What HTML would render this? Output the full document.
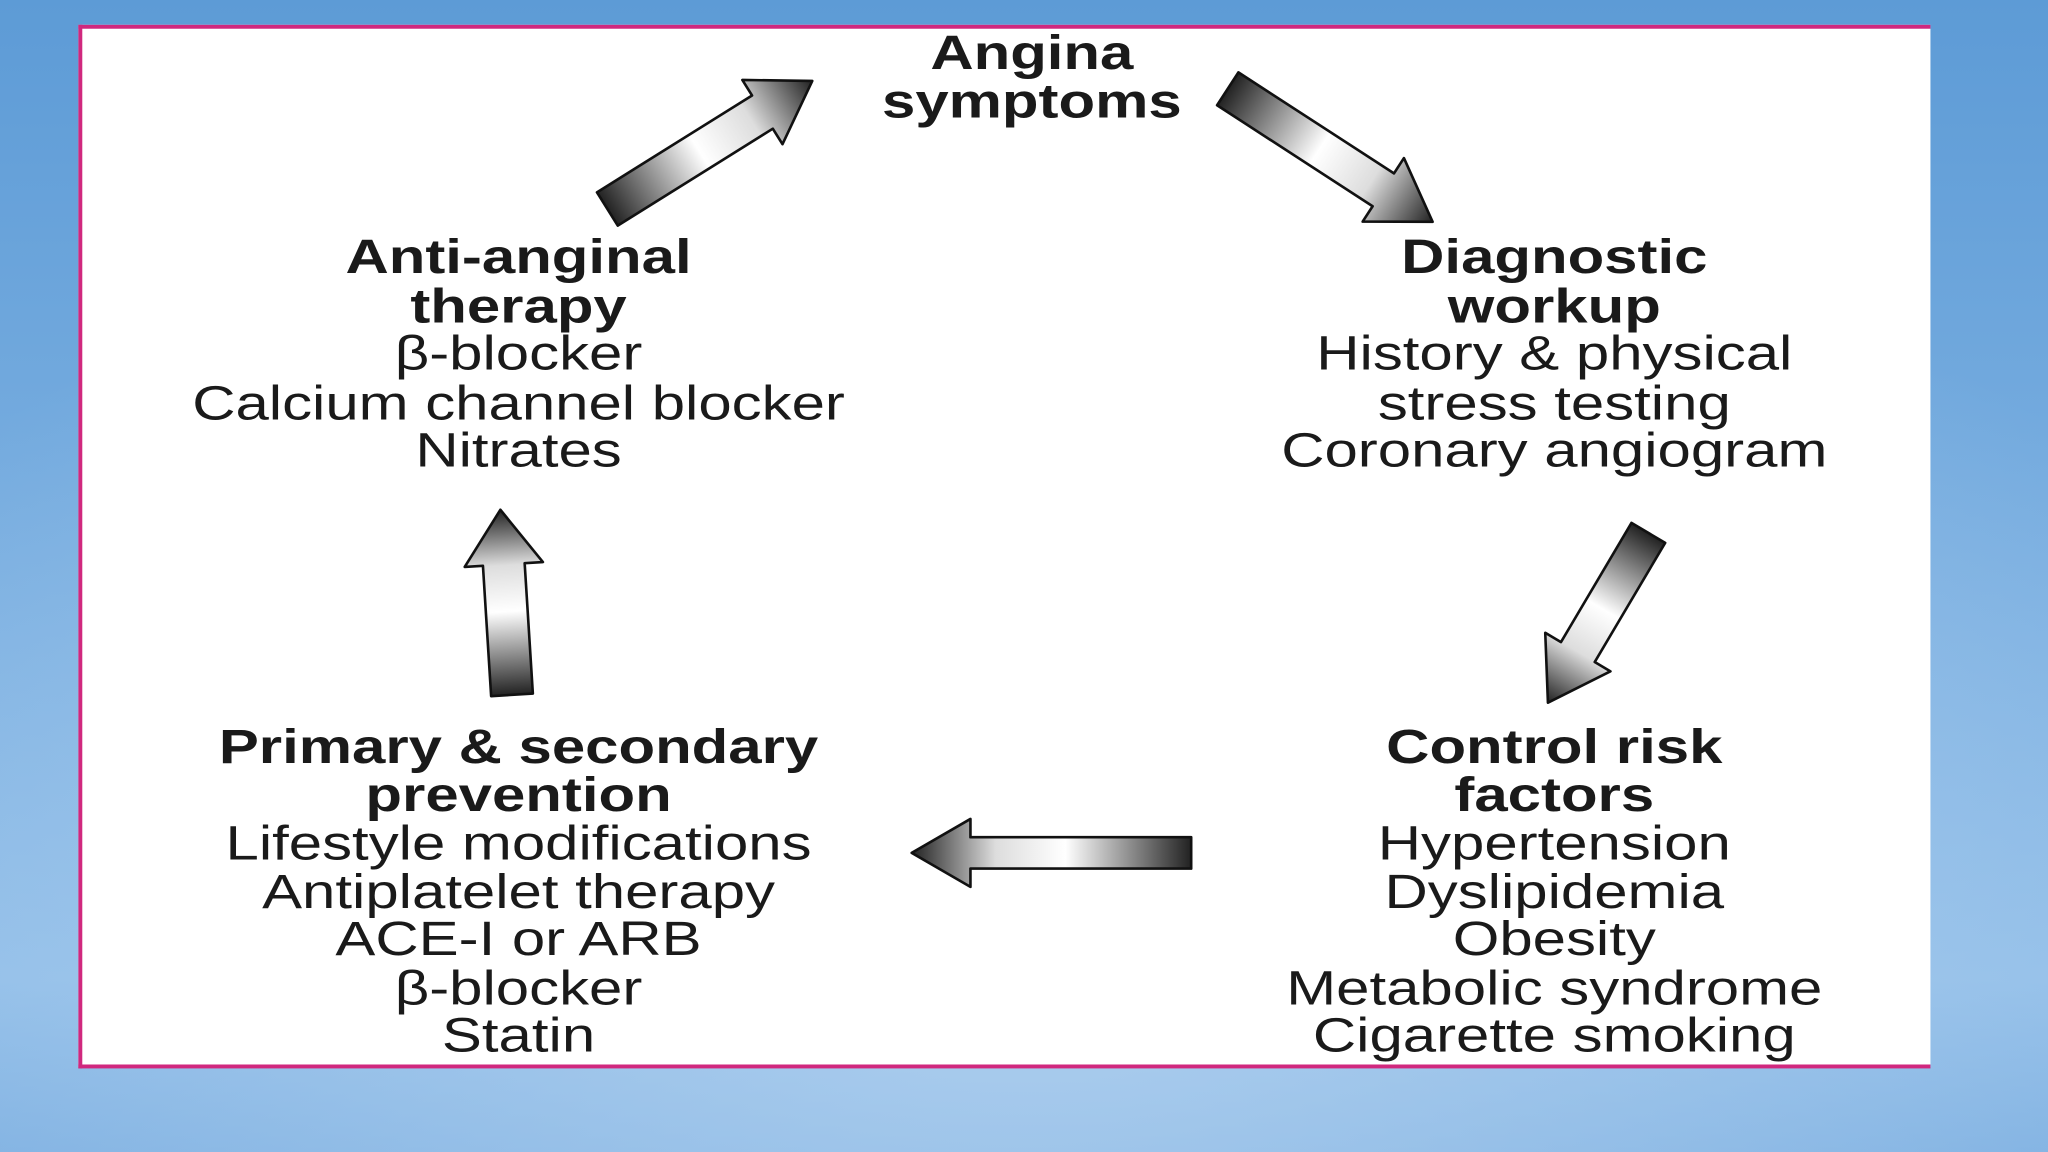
<!DOCTYPE html>
<html><head><meta charset="utf-8"><style>
html,body{margin:0;padding:0;width:2048px;height:1152px;overflow:hidden}
svg{display:block}
</style></head><body>
<svg width="2048" height="1152" viewBox="0 0 1568 882" xmlns="http://www.w3.org/2000/svg">
<defs>
<linearGradient id="bgv" x1="0" y1="0" x2="0" y2="1">
<stop offset="0" stop-color="#5d9bd6"/><stop offset="0.85" stop-color="#8fbde8"/><stop offset="1" stop-color="#79ade0"/>
</linearGradient>
<radialGradient id="bgr" cx="0.5" cy="0.85" r="0.7">
<stop offset="0" stop-color="#b5d3f0" stop-opacity="0.8"/><stop offset="1" stop-color="#b5d3f0" stop-opacity="0"/>
</radialGradient>
<linearGradient id="ag" x1="0" y1="0" x2="1" y2="0">
<stop offset="0" stop-color="#222"/><stop offset="0.45" stop-color="#fff"/><stop offset="0.7" stop-color="#ddd"/><stop offset="1" stop-color="#222"/>
</linearGradient>
</defs>
<rect width="1568" height="882" fill="url(#bgv)"/>
<rect width="1568" height="882" fill="url(#bgr)"/>
<rect x="60" y="19" width="1418" height="798" fill="#fff"/>
<rect x="60" y="19" width="1418" height="3" fill="#d0287e"/>
<rect x="60" y="815" width="1418" height="3" fill="#d0287e"/>
<rect x="60" y="19" width="3" height="799" fill="#d0287e"/>

<g stroke="#111" stroke-width="2" stroke-linejoin="round">
<g transform="translate(465,160) rotate(-32)"><polygon fill="url(#ag)" points="0,-15 140,-15 140,-29 185,0 140,29 140,15 0,15"/></g>
<g transform="translate(940,68) rotate(33)"><polygon fill="url(#ag)" points="0,-15 142,-15 142,-29 187,0 142,29 142,15 0,15"/></g>
<g transform="translate(1262,408) rotate(120.6)"><polygon fill="url(#ag)" points="0,-15 106,-15 106,-29 151,0 106,29 106,15 0,15"/></g>
<g transform="translate(912,653) rotate(180)"><polygon fill="url(#ag)" points="0,-12 169,-12 169,-26 214,0 169,26 169,12 0,12"/></g>
<g transform="translate(392,532) rotate(-93.6)"><polygon fill="url(#ag)" points="0,-16 100,-16 100,-30 142,0 100,30 100,16 0,16"/></g>
</g>

<g font-family="Liberation Sans, Arial, sans-serif" font-size="37" fill="#1a1a1a" text-anchor="middle">
<g transform="translate(790,0) scale(1.24,1)" font-weight="bold">
<text x="0" y="53">Angina</text><text x="0" y="90">symptoms</text>
</g>
<g transform="translate(397,0) scale(1.24,1)">
<text x="0" y="209" font-weight="bold">Anti-anginal</text>
<text x="0" y="247" font-weight="bold">therapy</text>
<text x="0" y="283">β-blocker</text>
<text x="0" y="321">Calcium channel blocker</text>
<text x="0" y="357">Nitrates</text>
</g>
<g transform="translate(1190,0) scale(1.24,1)">
<text x="0" y="209" font-weight="bold">Diagnostic</text>
<text x="0" y="247" font-weight="bold">workup</text>
<text x="0" y="283">History &amp; physical</text>
<text x="0" y="321">stress testing</text>
<text x="0" y="357">Coronary angiogram</text>
</g>
<g transform="translate(397,0) scale(1.24,1)">
<text x="0" y="584" font-weight="bold">Primary &amp; secondary</text>
<text x="0" y="621" font-weight="bold">prevention</text>
<text x="0" y="658">Lifestyle modifications</text>
<text x="0" y="695">Antiplatelet therapy</text>
<text x="0" y="731">ACE-I or ARB</text>
<text x="0" y="769">β-blocker</text>
<text x="0" y="805">Statin</text>
</g>
<g transform="translate(1190,0) scale(1.24,1)">
<text x="0" y="584" font-weight="bold">Control risk</text>
<text x="0" y="621" font-weight="bold">factors</text>
<text x="0" y="658">Hypertension</text>
<text x="0" y="695">Dyslipidemia</text>
<text x="0" y="731">Obesity</text>
<text x="0" y="769">Metabolic syndrome</text>
<text x="0" y="805">Cigarette smoking</text>
</g>
</g>
</svg>
</body></html>
